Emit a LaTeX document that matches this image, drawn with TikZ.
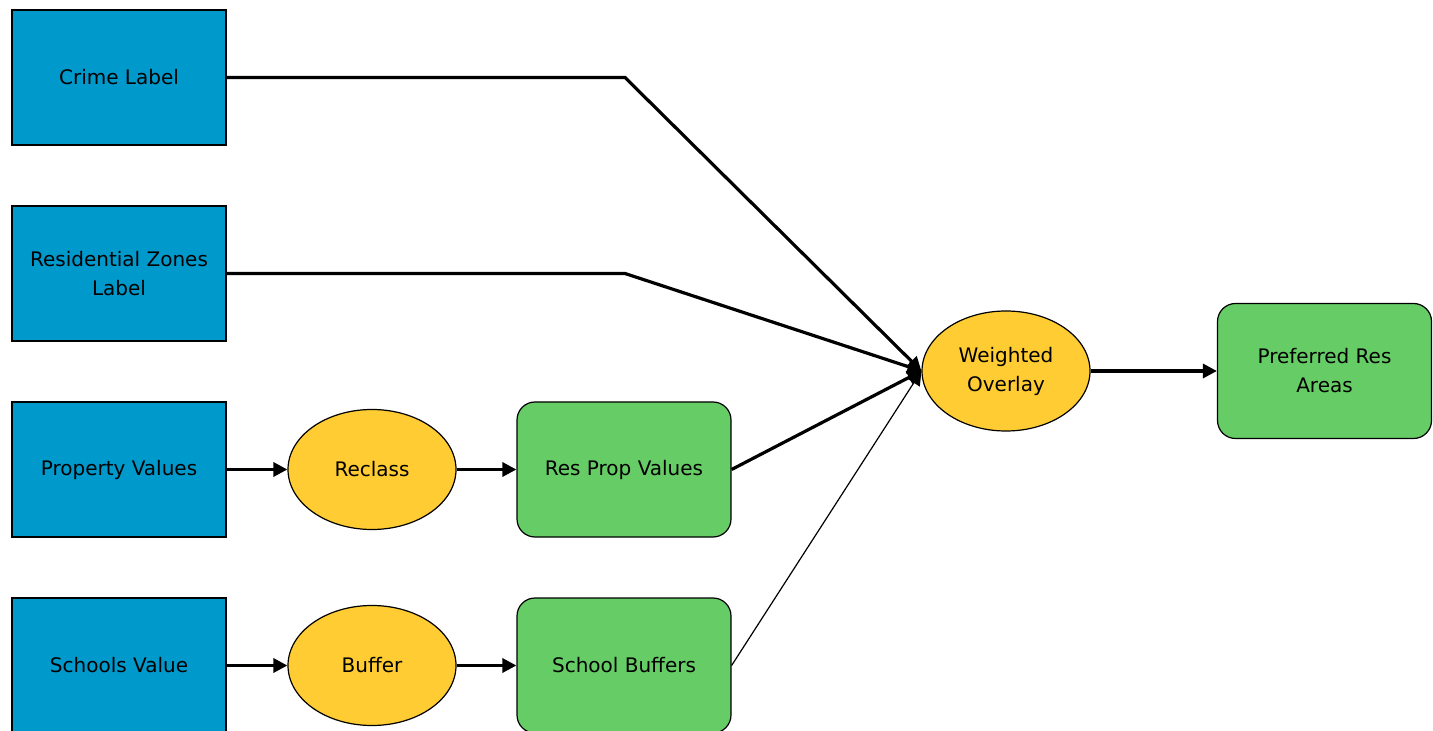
\documentclass[tikz,border=0pt]{standalone}
\usepackage{fontspec}
\setmainfont{DejaVu Sans}
\usetikzlibrary{arrows.meta,shapes.geometric}
\definecolor{dblue}{HTML}{0099CC}
\definecolor{dyellow}{HTML}{FFCC33}
\definecolor{dgreen}{HTML}{66CC66}
\begin{document}
\begin{tikzpicture}[x=0.5pt,y=-0.5pt,
  font=\fontsize{10}{14.5}\selectfont,
  inbox/.style={draw=black,line width=0.6pt,fill=dblue,minimum width=107pt,minimum height=67.5pt,align=center,inner sep=0pt},
  outbox/.style={draw=black,line width=0.6pt,fill=dgreen,rounded corners=9pt,minimum width=107pt,minimum height=67.5pt,align=center,inner sep=0pt},
  tool/.style={draw=black,line width=0.6pt,fill=dyellow,ellipse,minimum width=84pt,minimum height=60pt,align=center,inner sep=0pt},
  conn/.style={line width=1.6pt,-{Triangle[length=7pt,width=7pt]}},
  thinconn/.style={line width=0.6pt,-{Triangle[length=7pt,width=7pt]}}]
\useasboundingbox (0,0) rectangle (1433,731);
\node[inbox] (crime) at (119,77.5) {Crime Label};
\node[inbox] (resz) at (119,273.5) {Residential Zones\\Label};
\node[inbox] (prop) at (119,469.5) {Property Values};
\node[inbox] (schools) at (119,665.5) {Schools Value};
\node[tool] (reclass) at (372,469.5) {Reclass};
\node[tool] (buffer) at (372,665.5) {Buffer};
\node[outbox] (resprop) at (624,469.5) {Res Prop Values};
\node[outbox] (schoolbuf) at (624,665.5) {School Buffers};
\node[tool] (wo) at (1006,371) {Weighted\\Overlay};
\node[outbox] (pref) at (1324.5,371) {Preferred Res\\Areas};
\coordinate (c1) at (625,77.5);
\coordinate (c2) at (625,273.5);
\draw[conn] (crime.east) -- (c1) -- (wo.west);
\draw[conn] (resz.east) -- (c2) -- (wo.west);
\draw[conn] (resprop.east) -- (wo.west);
\draw[thinconn] (schoolbuf.east) -- (wo.west);
\draw[conn] (prop.east) -- (reclass.west);
\draw[conn] (reclass.east) -- (resprop.west);
\draw[conn] (schools.east) -- (buffer.west);
\draw[conn] (buffer.east) -- (schoolbuf.west);
\draw[conn] (wo.east) -- (pref.west);
\end{tikzpicture}
\end{document}
